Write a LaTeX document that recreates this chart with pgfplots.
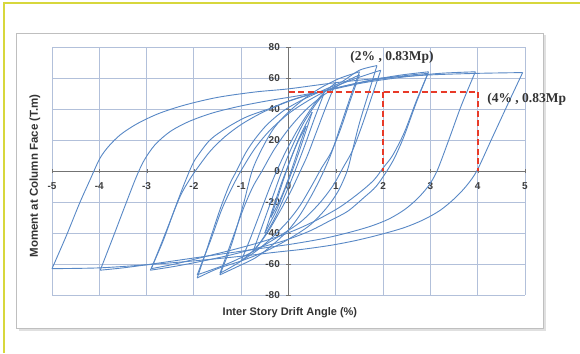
\documentclass[border=0pt]{standalone}
\usepackage{pgfplots}
\pgfplotsset{compat=1.18}
\usepackage{fontspec}
\setmainfont{Liberation Sans}
\newfontfamily\serifb{Liberation Serif}
\definecolor{hblue}{RGB}{88,136,198}
\definecolor{gridc}{RGB}{178,192,218}
\definecolor{redd}{RGB}{232,58,40}
\definecolor{frameY}{RGB}{215,215,60}
\tikzset{hl/.style={hblue, line width=0.9pt, smooth, tension=0.5}}
\begin{document}
\begin{tikzpicture}[x=1pt,y=1pt]
\useasboundingbox (0,0) rectangle (580,353);
\fill[white] (0,0) rectangle (580,353);
\draw[frameY, line width=1.5pt] (4,0) -- (4,350) -- (580,350);
\fill[black!12] (18.5,22.5) rectangle (545.5,317.5);
\filldraw[fill=white, draw=black!25, line width=0.8pt] (16,25) rectangle (543,320);
\begin{axis}[
  at={(52pt,58pt)}, anchor=south west,
  scale only axis, width=473pt, height=248pt,
  xmin=-5, xmax=5, ymin=-80, ymax=80,
  axis lines=middle,
  axis line style={draw=black!55, line width=0.7pt, -},
  hide obscured x ticks=false, hide obscured y ticks=false,
  xtick={-5,-4,...,5}, ytick={-80,-60,...,80},
  grid=major, grid style={gridc, line width=0.9pt},
  tick style={black!55},
  /pgf/number format/assume math mode=true,
  ticklabel style={font=\bfseries\fontsize{10}{10}\selectfont, text=black!75},
  xticklabel style={yshift=-6pt},
  yticklabel style={xshift=-3pt},
  xlabel={Inter Story Drift Angle (\%)},
  ylabel={Moment at Column Face (T.m)},
  every axis x label/.style={at={(axis description cs:0.503,-0.073)}, anchor=center, font=\bfseries\fontsize{11}{11}\selectfont, text=black!80},
  every axis y label/.style={at={(axis description cs:-0.036,0.48)}, rotate=90, anchor=center, font=\bfseries\fontsize{11.5}{11.5}\selectfont, text=black!80},
  clip=false,
]
% A = 0.375
\addplot[hl] coordinates {(-0.375,-30) (-0.25,-19) (-0.1,-5) (0.05,8) (0.2,19) (0.375,29)};
\addplot[hl] coordinates {(0.375,29) (0.25,18) (0.1,4) (-0.05,-9) (-0.2,-20) (-0.375,-30)};
% A = 0.5
\addplot[hl] coordinates {(-0.5,-40) (-0.35,-26) (-0.15,-8) (0.05,8) (0.25,23) (0.5,38)};
\addplot[hl] coordinates {(0.5,38) (0.35,24) (0.15,6) (-0.05,-10) (-0.25,-25) (-0.5,-40)};
% A = 0.75
\addplot[hl] coordinates {(-0.75,-52) (-0.55,-35) (-0.35,-18) (-0.15,-1) (0.05,14) (0.3,30) (0.55,42) (0.75,50)};
\addplot[hl] coordinates {(0.75,50) (0.55,34) (0.35,17) (0.15,1) (-0.05,-14) (-0.3,-31) (-0.55,-44) (-0.75,-52)};
% A = 1
\addplot[hl] coordinates {(-1,-58) (-0.8,-43) (-0.6,-27) (-0.4,-11) (-0.25,0) (-0.05,13) (0.2,27) (0.45,39) (0.7,49) (1,57)};
\addplot[hl] coordinates {(1,57) (0.8,42) (0.6,26) (0.4,10) (0.25,0) (0.05,-13) (-0.2,-27) (-0.45,-40) (-0.7,-50) (-1,-58)};
% A = 1.5 (a)
\addplot[hl] coordinates {(-1.45,-67) (-1.2,-47) (-0.95,-21) (-0.77,0) (-0.55,15) (-0.3,28) (0,38) (0.35,47) (0.7,54) (1.1,60) (1.5,64)};
\addplot[hl] coordinates {(1.5,64) (1.3,47) (1.1,29) (0.9,11) (0.7,-3) (0.5,-15) (0.25,-28) (0,-38) (-0.35,-48) (-0.7,-56) (-1.1,-62) (-1.45,-67)};
% A = 1.5 (b)
\addplot[hl] coordinates {(-1.45,-66) (-1.2,-45) (-0.95,-24) (-0.75,-10) (-0.56,0) (-0.3,14) (0,27) (0.35,39) (0.7,48) (1.1,56) (1.5,62)};
\addplot[hl] coordinates {(1.5,62) (1.3,45) (1.1,27) (0.9,12) (0.7,2) (0.5,-9) (0.25,-22) (0,-32) (-0.35,-43) (-0.7,-52) (-1.1,-60) (-1.45,-66)};
% A = 2 (a)
\addplot[hl] coordinates {(-1.93,-69) (-1.7,-48) (-1.45,-25) (-1.25,-9) (-1.1,0) (-0.9,12) (-0.7,21) (-0.45,30) (-0.1,39) (0.3,46) (0.8,53) (1.1,57) (1.5,65) (1.87,68)};
\addplot[hl] coordinates {(1.87,68) (1.7,51) (1.5,31) (1.35,13) (1.24,0) (1.05,-13) (0.8,-24) (0.45,-35) (0,-44) (-0.5,-52) (-1.0,-58) (-1.5,-63) (-1.93,-69)};
% A = 2 (b)
\addplot[hl] coordinates {(-1.93,-67) (-1.65,-45) (-1.4,-24) (-1.15,-8) (-0.95,3) (-0.7,15) (-0.4,26) (0,37) (0.45,46) (0.95,54) (1.45,60) (1.95,65)};
\addplot[hl] coordinates {(1.95,65) (1.75,47) (1.55,29) (1.35,13) (1.15,2) (0.95,-9) (0.65,-21) (0.25,-33) (-0.25,-43) (-0.75,-52) (-1.3,-60) (-1.93,-67)};
% A = 3 (a)
\addplot[hl] coordinates {(-2.92,-64) (-2.65,-45) (-2.4,-24) (-2.2,-8) (-2.05,3) (-1.94,9) (-1.66,20) (-1.3,28) (-0.88,35) (-0.33,41) (0.1,46) (0.6,50.5) (1.2,55) (1.8,59) (2.4,62) (2.96,64)};
\addplot[hl] coordinates {(2.96,64) (2.7,44) (2.45,23) (2.25,9) (2.08,0) (1.85,-10) (1.6,-17) (1.25,-26) (0.88,-32) (0.5,-38) (0.18,-42) (-0.2,-46) (-0.7,-50) (-1.2,-54) (-1.8,-58) (-2.4,-61.5) (-2.92,-64)};
% A = 3 (b)
\addplot[hl] coordinates {(-2.9,-63) (-2.6,-40) (-2.3,-17) (-2.1,-6) (-1.9,3) (-1.65,13) (-1.35,22) (-1.0,30) (-0.6,37) (-0.1,44) (0.4,49) (1.0,53.5) (1.6,57.5) (2.2,60.5) (2.6,62) (2.95,63)};
\addplot[hl] coordinates {(2.95,63) (2.7,45) (2.45,25) (2.2,10) (2.0,2) (1.8,-6) (1.5,-14) (1.1,-23) (0.7,-30) (0.3,-36) (-0.1,-41) (-0.6,-46) (-1.2,-51) (-1.8,-55.5) (-2.4,-60) (-2.9,-63)};
% A = 4
\addplot[hl] coordinates {(-3.98,-64) (-3.7,-42) (-3.45,-22) (-3.22,-4) (-3.05,7) (-2.82,17) (-2.5,25.5) (-2.1,32) (-1.6,37.5) (-1.0,42) (-0.4,45.5) (0.2,48.5) (0.9,52.5) (1.6,57) (2.4,60.5) (3.2,63) (3.95,64)};
\addplot[hl] coordinates {(3.95,64) (3.65,42) (3.4,21) (3.14,0) (2.95,-10) (2.72,-18) (2.45,-25) (2.12,-31) (1.75,-35.5) (1.3,-39.5) (0.75,-43.5) (0.1,-47) (-0.6,-50) (-1.4,-53.5) (-2.2,-57) (-3.0,-60.5) (-3.5,-62.5) (-3.98,-64)};
% A = 5
\addplot[hl] coordinates {(-5,-63) (-4.7,-42) (-4.42,-21) (-4.2,-6) (-3.99,8) (-3.8,16) (-3.55,23.5) (-3.2,30.5) (-2.75,37) (-2.2,42.5) (-1.5,47.5) (-0.7,51) (0,53) (1.0,57) (2.0,60) (3.0,62) (4.0,63) (4.95,63.5)};
\addplot[hl] coordinates {(4.95,63.5) (4.68,46) (4.3,21) (3.98,0) (3.75,-10) (3.5,-18) (3.2,-25.5) (2.85,-31.5) (2.45,-36.5) (1.94,-41) (1.4,-45) (0.88,-48) (0.3,-50.5) (-0.3,-52.5) (-1,-55) (-2,-58) (-3,-60.5) (-4,-62.5) (-5,-63)};
% 0.83 Mp markers
\addplot[redd, line width=2.1pt, dash pattern=on 6pt off 3.5pt] coordinates {(0,51) (4,51)};
\addplot[redd, line width=2.1pt, dash pattern=on 6pt off 3.5pt] coordinates {(2,51) (2,0)};
\addplot[redd, line width=2.1pt, dash pattern=on 6pt off 3.5pt] coordinates {(4,51) (4,0)};
\node[font=\serifb\bfseries\fontsize{13.5}{13.5}\selectfont, text=black!80] at (axis cs:2.19,73.5) {(2\% , 0.83Mp)};
\node[font=\serifb\bfseries\fontsize{13.5}{13.5}\selectfont, text=black!80, anchor=west, inner sep=0pt] at (axis cs:4.2,46) {(4\% , 0.83Mp};
\end{axis}
\end{tikzpicture}
\end{document}
